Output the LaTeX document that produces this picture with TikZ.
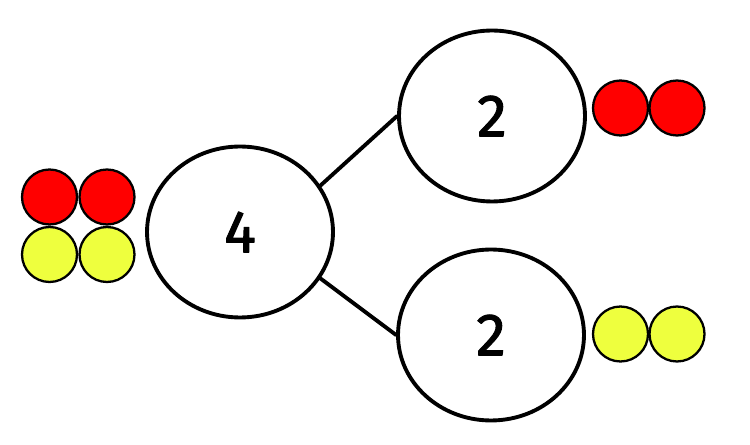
\documentclass[tikz,border=0pt]{standalone}
\usepackage{fontspec}
\setmainfont{Fira Sans}
\usetikzlibrary{shapes.geometric}
\definecolor{dotred}{RGB}{255,0,0}
\definecolor{dotyellow}{RGB}{238,255,62}

\begin{document}
\begin{tikzpicture}[x=0.02cm,y=0.02cm,line cap=round,line join=round,
  part/.style={draw,ellipse,line width=2.2pt,minimum width=3.72cm,minimum height=3.42cm,
    inner sep=0pt,font=\fontsize{34}{34}\selectfont\addfontfeatures{FakeBold=1.6}},
  counter/.style={draw,circle,line width=1.3pt,minimum size=1.1cm,inner sep=0pt},
  link/.style={line width=2.2pt}]
  \useasboundingbox (0,0) rectangle (750,-445);
  % whole and parts
  \node[part] (whole) at (240,-232) {4};
  \node[part] (upper) at (492,-116) {2};
  \node[part] (lower) at (491,-335) {2};
  \draw[link] (whole.30) -- (upper.west);
  \draw[link] (whole.-30) -- (lower.west);
  % counters
  \node[counter,fill=dotred] (wr1) at (49.5,-197) {};
  \node[counter,fill=dotred] (wr2) at (107,-197) {};
  \node[counter,fill=dotyellow] (wy1) at (49.5,-254.5) {};
  \node[counter,fill=dotyellow] (wy2) at (107,-254.5) {};
  \node[counter,fill=dotred] (ur1) at (620.5,-108) {};
  \node[counter,fill=dotred] (ur2) at (677,-108) {};
  \node[counter,fill=dotyellow] (ly1) at (620.5,-334) {};
  \node[counter,fill=dotyellow] (ly2) at (677,-334) {};
\end{tikzpicture}
\end{document}
